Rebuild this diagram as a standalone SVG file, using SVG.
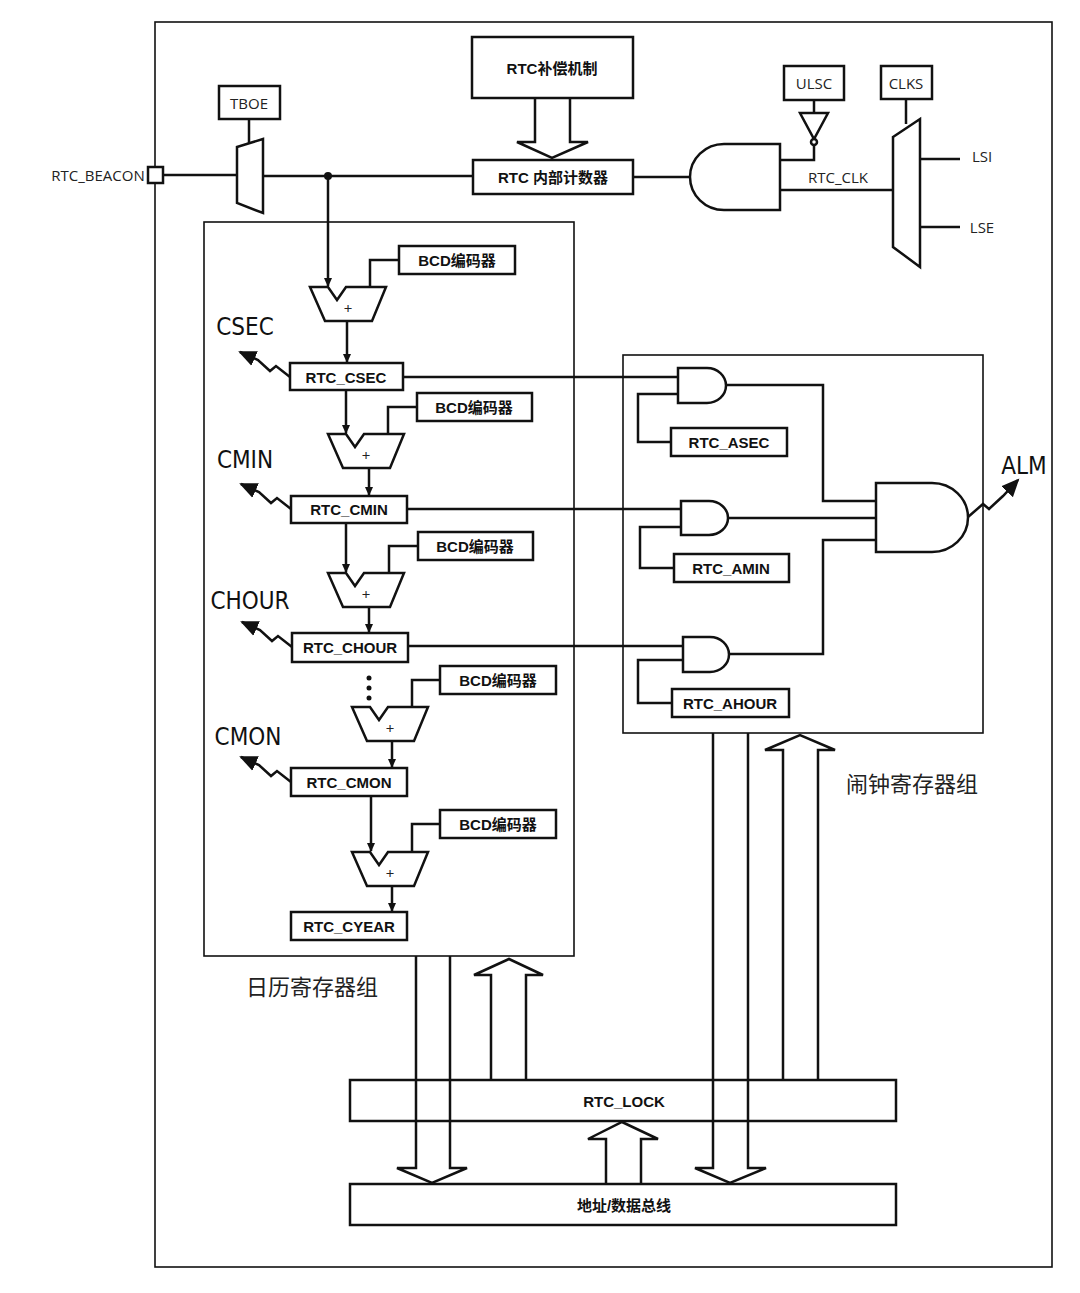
<svg xmlns="http://www.w3.org/2000/svg" width="1080" height="1293" viewBox="0 0 1080 1293">
<style>
.b{fill:#fff;stroke:#111;stroke-width:2.5}
.f{fill:none;stroke:#111;stroke-width:1.6}
.w{fill:none;stroke:#111;stroke-width:2.5}
.bt{font-family:"Liberation Sans","Noto Sans CJK SC",sans-serif;font-weight:bold;font-size:15px;fill:#111;text-anchor:middle;dominant-baseline:central}
.nt{font-family:"Open Sans","Liberation Sans","Noto Sans CJK SC",sans-serif;font-size:15px;fill:#222;text-anchor:middle;dominant-baseline:central}
.ct{font-family:"DejaVu Sans Condensed","Liberation Sans",sans-serif;font-stretch:condensed;font-size:24px;fill:#111;text-anchor:middle;dominant-baseline:central}
.gt{font-family:"Noto Sans CJK SC",sans-serif;font-size:22px;fill:#222;text-anchor:middle;dominant-baseline:central}
</style>
<defs>
<marker id="ah" markerWidth="10" markerHeight="10" refX="8" refY="5" orient="auto" markerUnits="userSpaceOnUse"><path d="M0,1 L9,5 L0,9 Z" fill="#111"/></marker>
<marker id="big" markerWidth="20" markerHeight="20" refX="16" refY="10" orient="auto" markerUnits="userSpaceOnUse"><path d="M0,2 L18,10 L0,18 Z" fill="#111"/></marker>
<path id="adder" d="M0,0 L18,0 L27,13 L36,0 L76,0 L62,34 L15,34 Z" class="b"/>
</defs>
<rect x="155" y="22" width="897" height="1245" class="f"/>
<rect x="204" y="222" width="370" height="734" class="f"/>
<rect x="623" y="355" width="360" height="378" class="f"/>
<text x="98" y="175" class="nt">RTC_BEACON</text>
<text x="312" y="985" class="gt">日历寄存器组</text>
<text x="912" y="782" class="gt">闹钟寄存器组</text>

<g id="connectors">
<polyline class="w" points="163,175 237,175"/>
<polyline class="w" points="263,176 473,176"/>
<circle cx="328" cy="176" r="4" fill="#111"/>
<polyline class="w" points="328,176 328,286" marker-end="url(#ah)"/>
<polyline class="w" points="249,119 249,143"/>
<polyline class="w" points="399,260 370,260 370,287"/>
<polyline class="w" points="347,321 347,362" marker-end="url(#ah)"/>
<polyline class="w" points="346,390 346,433" marker-end="url(#ah)"/>
<polyline class="w" points="417,407 388,407 388,434"/>
<polyline class="w" points="369,468 369,495" marker-end="url(#ah)"/>
<polyline class="w" points="346,523 346,572" marker-end="url(#ah)"/>
<polyline class="w" points="418,546 389,546 389,573"/>
<polyline class="w" points="369,607 369,632" marker-end="url(#ah)"/>
<polyline class="w" points="440,680 412,680 412,707"/>
<polyline class="w" points="392,741 392,767" marker-end="url(#ah)"/>
<polyline class="w" points="371,796 371,851" marker-end="url(#ah)"/>
<polyline class="w" points="440,824 412,824 412,852"/>
<polyline class="w" points="392,886 392,911" marker-end="url(#ah)"/>
<circle cx="369" cy="678" r="2.5" fill="#111"/><circle cx="369" cy="688" r="2.5" fill="#111"/><circle cx="369" cy="698" r="2.5" fill="#111"/>
<!-- squiggles -->
<polyline class="w" points="290,377 276,366 270,371 258,360 240,352" marker-end="url(#big)"/>
<polyline class="w" points="291,509 277,498 271,503 259,492 241,484" marker-end="url(#big)"/>
<polyline class="w" points="292,647 278,636 272,641 260,630 242,622" marker-end="url(#big)"/>
<polyline class="w" points="291,782 277,771 271,776 259,765 241,757" marker-end="url(#big)"/>
<polyline class="w" points="968,517 983,504 989,509 1003,496 1018,480" marker-end="url(#big)"/>
<!-- top right -->
<polyline class="w" points="633,177 690,177"/>
<polyline class="w" points="814,100 814,113"/>
<polyline class="w" points="814,146 814,160 780,160"/>
<polyline class="w" points="780,190 893,190"/>
<polyline class="w" points="906,99 906,124"/>
<polyline class="w" points="920,159 960,159"/>
<polyline class="w" points="920,227 960,227"/>
<!-- alarm -->
<polyline class="w" points="403,377 678,377"/>
<polyline class="w" points="678,394 638,394 638,442 671,442"/>
<polyline class="w" points="726,385 823,385 823,501 876,501"/>
<polyline class="w" points="407,509 681,509"/>
<polyline class="w" points="681,527 640,527 640,568 674,568"/>
<polyline class="w" points="728,518 876,518"/>
<polyline class="w" points="408,646 683,646"/>
<polyline class="w" points="683,660 638,660 638,703 672,703"/>
<polyline class="w" points="729,654 823,654 823,540 876,540"/>
</g>

<g id="TBOE"><rect x="219" y="86" width="61" height="33" class="b" stroke-width="2"/><text x="249" y="103" class="nt">TBOE</text></g>
<g id="mux1"><path d="M237,147 L263,139 L263,213 L237,203 Z" class="b"/></g>
<g id="comp"><rect x="472" y="37" width="161" height="61" class="b"/><text x="552" y="68" class="bt">RTC补偿机制</text></g>
<g id="bigarrow1"><path d="M535,98 L535,142 L517,142 L552,158 L588,142 L570,142 L570,98" class="w" fill="#fff"/></g>
<g id="counter"><rect x="473" y="160" width="160" height="34" class="b"/><text x="553" y="177" class="bt">RTC  内部计数器</text></g>
<g id="and0"><path d="M780,144 L724,144 A34,33 0 0 0 724,210 L780,210 Z" class="b"/></g>
<g id="ULSC"><rect x="784" y="66" width="60" height="34" class="b"/><text x="814" y="83" class="nt" font-size="19">ULSC</text></g>
<g id="inv"><path d="M800,113 L828,113 L814,139 Z" class="b" stroke-width="2"/><circle cx="814" cy="142" r="3" class="b" stroke-width="1.5"/></g>
<g id="CLKS"><rect x="881" y="66" width="51" height="33" class="b"/><text x="906" y="83" class="nt">CLKS</text></g>
<g id="mux2"><path d="M893,137 L920,119 L920,267 L893,247 Z" class="b"/></g>
<text x="838" y="177" class="nt">RTC_CLK</text>
<text x="982" y="156" class="nt">LSI</text>
<text x="982" y="227" class="nt">LSE</text>

<g id="bcd1"><rect x="399" y="246" width="116" height="28" class="b"/><text x="457" y="260" class="bt">BCD编码器</text></g>
<g id="add1"><use href="#adder" x="310" y="287"/><text x="348" y="308" class="nt" font-size="12">+</text></g>
<g id="csec"><rect x="290" y="363" width="113" height="27" class="b"/><text x="346" y="377" class="bt">RTC_CSEC</text></g>
<text x="245" y="327" class="ct">CSEC</text>
<g id="bcd2"><rect x="417" y="393" width="115" height="28" class="b"/><text x="474" y="407" class="bt">BCD编码器</text></g>
<g id="add2"><use href="#adder" x="328" y="434"/><text x="366" y="455" class="nt" font-size="12">+</text></g>
<g id="cmin"><rect x="291" y="496" width="116" height="27" class="b"/><text x="349" y="509" class="bt">RTC_CMIN</text></g>
<text x="245" y="460" class="ct">CMIN</text>
<g id="bcd3"><rect x="418" y="532" width="115" height="28" class="b"/><text x="475" y="546" class="bt">BCD编码器</text></g>
<g id="add3"><use href="#adder" x="328" y="573"/><text x="366" y="594" class="nt" font-size="12">+</text></g>
<g id="chour"><rect x="292" y="633" width="116" height="29" class="b"/><text x="350" y="647" class="bt">RTC_CHOUR</text></g>
<text x="250" y="601" class="ct">CHOUR</text>
<g id="bcd4"><rect x="440" y="666" width="116" height="28" class="b"/><text x="498" y="680" class="bt">BCD编码器</text></g>
<g id="add4"><use href="#adder" x="352" y="707"/><text x="390" y="728" class="nt" font-size="12">+</text></g>
<g id="cmon"><rect x="291" y="768" width="116" height="28" class="b"/><text x="349" y="782" class="bt">RTC_CMON</text></g>
<text x="248" y="737" class="ct">CMON</text>
<g id="bcd5"><rect x="440" y="810" width="116" height="28" class="b"/><text x="498" y="824" class="bt">BCD编码器</text></g>
<g id="add5"><use href="#adder" x="352" y="852"/><text x="390" y="873" class="nt" font-size="12">+</text></g>
<g id="cyear"><rect x="291" y="912" width="116" height="28" class="b"/><text x="349" y="926" class="bt">RTC_CYEAR</text></g>

<g id="g1"><path d="M678,368 L707,368 A19,17.5 0 0 1 707,403 L678,403 Z" class="b"/></g>
<g id="asec"><rect x="671" y="428" width="116" height="28" class="b"/><text x="729" y="442" class="bt">RTC_ASEC</text></g>
<g id="g2"><path d="M681,501 L709,501 A19,17 0 0 1 709,535 L681,535 Z" class="b"/></g>
<g id="amin"><rect x="674" y="554" width="115" height="28" class="b"/><text x="731" y="568" class="bt">RTC_AMIN</text></g>
<g id="g3"><path d="M683,637 L710,637 A19,17.5 0 0 1 710,672 L683,672 Z" class="b"/></g>
<g id="ahour"><rect x="672" y="689" width="117" height="28" class="b"/><text x="730" y="703" class="bt">RTC_AHOUR</text></g>
<g id="g4"><path d="M876,483 L932,483 A36,34.5 0 0 1 932,552 L876,552 Z" class="b"/></g>
<text x="1024" y="466" class="ct">ALM</text>

<g id="lock"><rect x="350" y="1080" width="546" height="41" class="b"/><text x="624" y="1101" class="bt" font-family="DejaVu Sans Condensed" font-weight="normal">RTC_LOCK</text></g>
<g id="bus"><rect x="350" y="1184" width="546" height="41" class="b"/><text x="624" y="1205" class="bt">地址/数据总线</text></g>
<g id="busarrows" class="w">
<path d="M416,956 L416,1168 L397,1168 L432,1183 L467,1168 L450,1168 L450,956" class="w"/>
<path d="M491,1080 L491,975 L474,975 L509,959 L543,975 L526,975 L526,1080" class="w"/>
<path d="M606,1184 L606,1139 L588,1139 L622,1122 L658,1139 L641,1139 L641,1184" class="w"/>
<path d="M713,733 L713,1168 L695,1168 L730,1183 L766,1168 L748,1168 L748,733" class="w"/>
<path d="M783,1080 L783,750 L765,750 L800,735 L835,750 L818,750 L818,1080" class="w"/>
</g>
<rect x="148" y="167" width="15" height="16" class="b" stroke-width="2"/>
</svg>
